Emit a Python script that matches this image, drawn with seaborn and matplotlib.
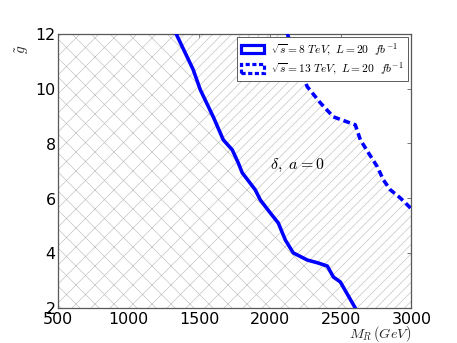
import numpy as np
import pandas as pd
import matplotlib
matplotlib.use("Agg")
import matplotlib.pyplot as plt
from matplotlib.patches import Patch
import seaborn as sns

# ---- data ----
m_8tev = [1335, 1456, 1506, 1598, 1669, 1732, 1775, 1803, 1895, 1931, 2001, 2058,
          2108, 2164, 2263, 2341, 2405, 2448, 2497, 2603]
g_8tev = [12.0, 10.69, 9.96, 8.97, 8.13, 7.77, 7.29, 6.93, 6.31, 5.94, 5.47, 5.10,
          4.48, 4.01, 3.75, 3.64, 3.53, 3.13, 2.95, 2.0]
m_13tev = [2122, 2190, 2263, 2356, 2448, 2603, 2639, 2696, 2759, 2802, 2851, 2922, 3007]
g_13tev = [12.0, 11.0, 10.07, 9.48, 8.97, 8.68, 8.13, 7.66, 7.15, 6.67, 6.31, 6.01, 5.58]
labels = [r"$\sqrt{s}=8\ TeV,\ L=20\ \ fb^{-1}$", r"$\sqrt{s}=13\ TeV,\ L=20\ \ fb^{-1}$"]
x_ticks = [500, 1000, 1500, 2000, 2500, 3000]
y_ticks = [2, 4, 6, 8, 10, 12]
xlim = (500, 3000)
ylim = (2, 12)

sns.set_style("ticks")
plt.rcParams["mathtext.fontset"] = "cm"
plt.rcParams["font.family"] = ["DejaVu Sans"]
plt.rcParams["hatch.linewidth"] = 0.8
plt.rcParams["text.color"] = "black"
plt.rcParams["xtick.labelcolor"] = "black"
plt.rcParams["ytick.labelcolor"] = "black"

fig, ax = plt.subplots(figsize=(8, 6), dpi=57.2)
fig.subplots_adjust(left=0.127, right=0.899, bottom=0.102, top=0.901)

hatch_col = "0.75"
# region left of 13 TeV curve
px13 = [xlim[0]] + m_13tev + [m_13tev[-1], xlim[0]]
py13 = [ylim[1]] + g_13tev + [ylim[0], ylim[0]]
ax.fill(px13, py13, facecolor="none", edgecolor=hatch_col, hatch="//", linewidth=0, zorder=1)
# region left of 8 TeV curve
px8 = [xlim[0]] + m_8tev + [xlim[0]]
py8 = [ylim[1]] + g_8tev + [ylim[0]]
ax.fill(px8, py8, facecolor="white", edgecolor=hatch_col, hatch="x", linewidth=0, zorder=1.5)

df8 = pd.DataFrame({"M": m_8tev, "g": g_8tev})
df13 = pd.DataFrame({"M": m_13tev, "g": g_13tev})
sns.lineplot(data=df8, x="M", y="g", ax=ax, color="blue", lw=4.5, zorder=3)
sns.lineplot(data=df13, x="M", y="g", ax=ax, color="blue", lw=4.5, zorder=3,
             linestyle=(0, (1.9, 1.1)))

ax.set_xlim(*xlim)
ax.set_ylim(*ylim)
ax.set_xticks(x_ticks)
ax.set_yticks(y_ticks)
ax.tick_params(direction="in", top=True, right=True, length=5, width=1,
               color="0.35", labelsize=20, pad=3, labelcolor="black")
ax.tick_params(axis="x", pad=5)
for s in ax.spines.values():
    s.set_color("0.35")
    s.set_linewidth(1.6)

ax.set_xlabel(r"$M_R\,(GeV)$", fontsize=18)
ax.xaxis.set_label_coords(1.0, -0.057)
ax.xaxis.label.set_horizontalalignment("right")
ax.set_ylabel(r"$\tilde{g}$", fontsize=19)
ax.yaxis.set_label_coords(-0.076, 0.945)

ax.text(2000, 7.2, r"$\delta,\ a=0$", fontsize=20, va="center", ha="left")

handles = [Patch(facecolor="white", edgecolor="blue", linewidth=4),
           Patch(facecolor="white", edgecolor="blue", linewidth=4, linestyle=(0, (1.3, 0.8)))]
leg = ax.legend(handles, labels, loc="upper right", fontsize=14.5, frameon=True,
                fancybox=False, framealpha=1.0, borderaxespad=0.3, handlelength=2.0,
                handleheight=0.75, handletextpad=0.6, borderpad=0.35, labelspacing=0.3)
leg.get_frame().set_edgecolor("0.35")
leg.get_frame().set_linewidth(1.2)
leg.set_zorder(5)

fig.savefig("out.png", dpi=57.2)
